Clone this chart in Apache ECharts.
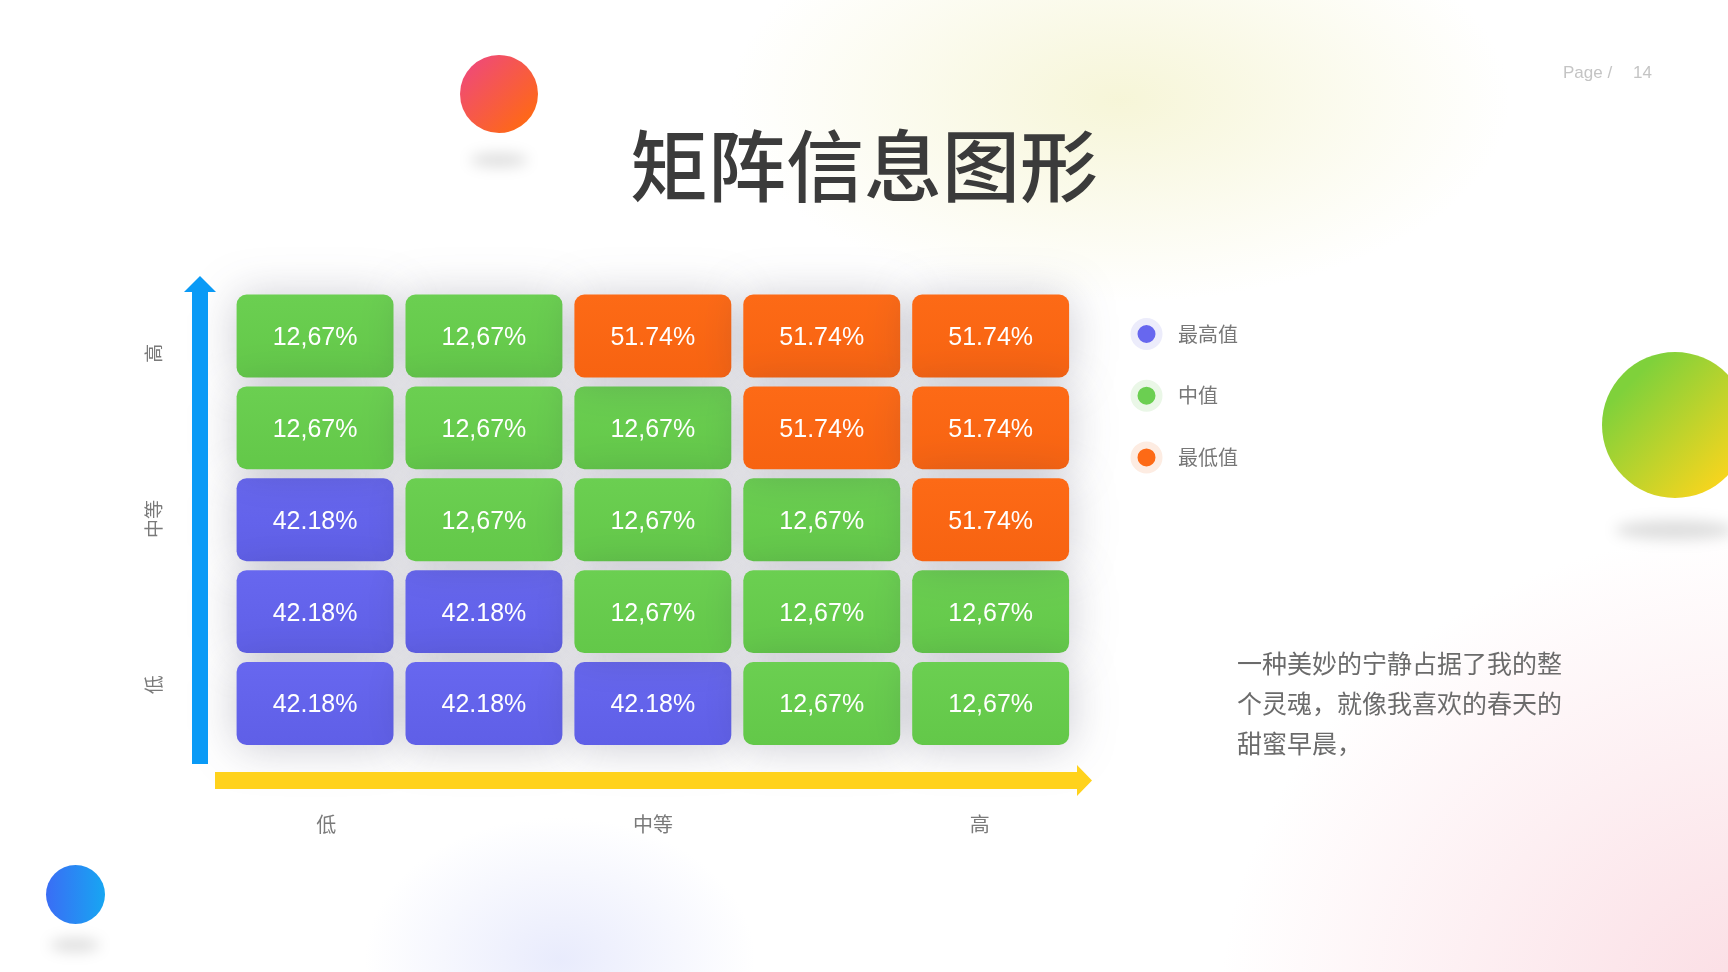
<!DOCTYPE html>
<html>
<head>
<meta charset="utf-8">
<script src="https://cdn.jsdelivr.net/npm/echarts@6/dist/echarts.min.js"></script>
<style>
  html, body { margin: 0; padding: 0; width: 1728px; height: 972px; overflow: hidden; background: #ffffff; }
  #bg { position: absolute; left: 0; top: 0; width: 1728px; height: 972px;
    background:
      radial-gradient(ellipse 520px 270px at 1120px 100px, rgba(246,245,214,0.95), rgba(255,255,255,0) 75%),
      radial-gradient(ellipse 720px 640px at 1760px 1010px, rgba(250,214,222,0.85), rgba(255,255,255,0) 75%),
      radial-gradient(ellipse 260px 190px at 560px 960px, rgba(230,233,252,0.9), rgba(255,255,255,0) 75%);
  }
  .dot { position: absolute; border-radius: 50%; }
  .sh { position: absolute; border-radius: 50%; background: rgba(0,0,0,0.13); filter: blur(7px); }
  #chart { position: absolute; left: 0; top: 0; width: 1728px; height: 972px; }
</style>
</head>
<body>
<div id="bg"></div>
<div class="sh" style="left:470px;top:153px;width:58px;height:14px;"></div>
<div class="sh" style="left:1615px;top:520px;width:120px;height:20px;"></div>
<div class="sh" style="left:50px;top:938px;width:50px;height:14px;"></div>
<div class="dot" style="left:460px;top:55px;width:78px;height:78px;background:linear-gradient(135deg,#ef4a78 10%,#ff6a12 90%);"></div>
<div class="dot" style="left:1602px;top:352px;width:146px;height:146px;background:linear-gradient(135deg,#7fd13b 20%,#ffd51c 90%);"></div>
<div class="dot" style="left:46px;top:865px;width:59px;height:59px;background:linear-gradient(90deg,#3a6df5 0%,#17a6f2 100%);"></div>
<div id="chart"></div>
<script>
// ---- data ----
const colCats = ['c1', 'c2', 'c3', 'c4', 'c5'];
const rowCats = ['r1', 'r2', 'r3', 'r4', 'r5']; // top to bottom
const levelNames = ['最高值', '中值', '最低值'];
const levelLabels = ['42.18%', '12,67%', '51.74%'];
const levelValues = [42.18, 12.67, 51.74];
// level index of each cell, rows from top to bottom
const matrixRow1 = [1, 1, 2, 2, 2];
const matrixRow2 = [1, 1, 1, 2, 2];
const matrixRow3 = [0, 1, 1, 1, 2];
const matrixRow4 = [0, 0, 1, 1, 1];
const matrixRow5 = [0, 0, 0, 1, 1];
const xTickLabels = ['低', '中等', '高'];
const yTickLabels = ['低', '中等', '高'];
const titleText = '矩阵信息图形';
const bodyText = '一种美妙的宁静占据了我的整\n个灵魂，就像我喜欢的春天的\n甜蜜早晨，';

// ---- styles ----
const levelColors = ['#6767ef', '#6bcf51', '#fd6a16'];
const levelColorsDark = ['#5f5fe7', '#63c849', '#f76311'];
const haloColors = ['#ececfb', '#eaf7e7', '#fdece2'];

const matrix = [matrixRow1, matrixRow2, matrixRow3, matrixRow4, matrixRow5];

function levelData(lv) {
  const out = [];
  matrix.forEach((row, r) => row.forEach((v, c) => {
    if (v === lv) out.push([c, r, levelValues[lv]]);
  }));
  return out;
}

const chart = echarts.init(document.getElementById('chart'));

const series = levelNames.map((name, lv) => ({
  name: name,
  type: 'custom',
  coordinateSystem: 'cartesian2d',
  xAxisIndex: 0,
  yAxisIndex: 0,
  itemStyle: { color: levelColors[lv] },
  data: levelData(lv),
  renderItem: function (params, api) {
    const c = api.coord([api.value(0), api.value(1)]);
    const s = api.size([1, 1]);
    const w = s[0] - 12, h = s[1] - 9;
    return {
      type: 'rect',
      shape: { x: c[0] - w / 2, y: c[1] - h / 2, width: w, height: h, r: 10 },
      style: {
        fill: new echarts.graphic.LinearGradient(0, 0, 0, 1, [
          { offset: 0, color: levelColors[lv] },
          { offset: 1, color: levelColorsDark[lv] }
        ]),
        shadowBlur: 45,
        shadowColor: 'rgba(50,50,80,0.26)',
        shadowOffsetY: 2
      },
      textContent: {
        style: { text: levelLabels[lv], fill: '#ffffff', font: '25px "Liberation Sans", Arial, sans-serif' }
      },
      textConfig: { position: 'inside', offset: [0, 2] }
    };
  }
}));

chart.setOption({
  animation: false,
  title: {
    text: titleText,
    left: 'center',
    top: 122,
    textStyle: { fontSize: 78, fontWeight: 500, color: '#3b3b3b', fontFamily: '"Noto Sans CJK SC", sans-serif' }
  },
  legend: {
    orient: 'vertical',
    left: 1125.5,
    top: 313,
    icon: 'circle',
    itemWidth: 25,
    itemHeight: 25,
    itemGap: 29.7,
    textStyle: { fontSize: 20, color: '#777777', fontFamily: '"Noto Sans CJK SC", sans-serif', padding: [0, 0, 0, 14] },
    data: levelNames.map((n, i) => ({ name: n, itemStyle: { borderColor: haloColors[i], borderWidth: 7 } }))
  },
  grid: [
    { left: 230.6, top: 290, width: 844.5, height: 459.5 },
    { left: 163, top: 270.5, width: 980, height: 497 }
  ],
  xAxis: [
    { type: 'category', gridIndex: 0, data: colCats, show: false },
    {
      type: 'category', gridIndex: 1, data: xTickLabels,
      axisLine: { show: false }, axisTick: { show: false }, splitLine: { show: false },
      axisLabel: { margin: 56.5, verticalAlign: 'middle', fontSize: 20, color: '#7a7a7a', fontFamily: '"Noto Sans CJK SC", sans-serif' }
    }
  ],
  yAxis: [
    { type: 'category', gridIndex: 0, data: rowCats, inverse: true, show: false },
    {
      type: 'category', gridIndex: 1, data: yTickLabels,
      axisLine: { show: false }, axisTick: { show: false }, splitLine: { show: false },
      axisLabel: { margin: 9, rotate: 90, align: 'center', verticalAlign: 'middle', fontSize: 19, color: '#7a7a7a', fontFamily: '"Noto Sans CJK SC", sans-serif' }
    }
  ],
  graphic: [
    {
      type: 'polygon', z: 10,
      shape: { points: [[192, 764], [192, 292], [184, 292], [200, 276], [216, 292], [208, 292], [208, 764]] },
      style: { fill: '#0a9af6' }
    },
    {
      type: 'polygon', z: 10,
      shape: { points: [[215, 772], [1077, 772], [1077, 765], [1092, 780.5], [1077, 796], [1077, 789], [215, 789]] },
      style: { fill: '#ffd21c' }
    },
    {
      type: 'text', left: 1563, top: 65,
      style: { text: 'Page /', font: '17px "Liberation Sans", Arial, sans-serif', fill: '#c4c4c4' }
    },
    {
      type: 'text', left: 1633, top: 65,
      style: { text: '14', font: '17px "Liberation Sans", Arial, sans-serif', fill: '#c4c4c4' }
    },
    {
      type: 'text', left: 1237, top: 643,
      style: { text: bodyText, font: '25px "Noto Sans CJK SC", sans-serif', fill: '#6b6b6b', lineHeight: 40 }
    }
  ],
  series: series
});
</script>
</body>
</html>
